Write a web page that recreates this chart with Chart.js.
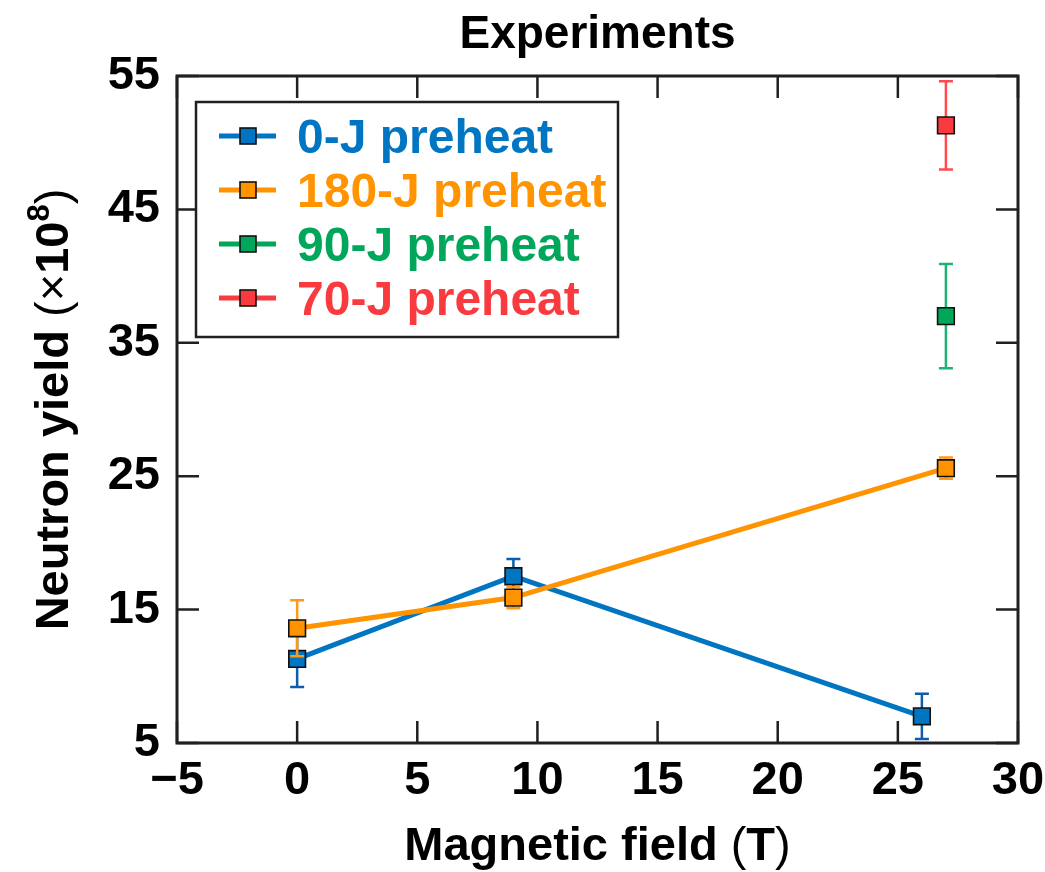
<!DOCTYPE html>
<html>
<head>
<meta charset="utf-8">
<title>Experiments</title>
<script src="https://cdn.jsdelivr.net/npm/chart.js@4.4.0/dist/chart.umd.min.js"></script>
<style>
  html, body { margin: 0; padding: 0; background: #fff; }
  #wrap { width: 1045px; height: 872px; }
</style>
</head>
<body>
<div id="wrap"><canvas id="myChart" width="1045" height="872"></canvas></div>
<script>
// axis ticks
const xTicks = [-5, 0, 5, 10, 15, 20, 25, 30];
const yTicks = [5, 15, 25, 35, 45, 55];

// neutron yield (x10^8) vs magnetic field (T), with error half-widths
const seriesLabels = ['0-J preheat', '180-J preheat', '90-J preheat', '70-J preheat'];

const field0J = [0, 9, 26];
const yield0J = [11.3, 17.5, 7.0];
const err0J = [2.1, 1.3, 1.7];

const field180J = [0, 9, 27];
const yield180J = [13.6, 15.9, 25.6];
const err180J = [2.1, 0.8, 0.8];

const field90J = [27];
const yield90J = [37.0];
const err90J = [3.9];

const field70J = [27];
const yield70J = [51.3];
const err70J = [3.3];

const colors = ['#0075c1', '#ff9300', '#00a65a', '#f93b40'];
const errColors = ['#0d5daa', '#ff9a17', '#1fb275', '#ff4a50'];

const FONT = "'Liberation Sans', Arial, Helvetica, sans-serif";
const INK = '#231f20';

function points(xs, ys, es) {
    return xs.map((x, i) => ({ x: x, y: ys[i], err: es[i] }));
}

function makeSet(i, xs, ys, es, joined) {
    return {
        label: seriesLabels[i],
        data: points(xs, ys, es),
        showLine: joined,
        borderColor: colors[i],
        borderWidth: 5,
        backgroundColor: colors[i],
        pointStyle: 'rect',
        pointRadius: 11.8,
        pointHoverRadius: 11.8,
        pointBackgroundColor: colors[i],
        pointBorderColor: '#111',
        pointBorderWidth: 1.6,
        errColor: errColors[i],
        order: 4 - i
    };
}

// error bars go right under each series' own line and markers
const errorBars = {
    id: 'errorBars',
    beforeDatasetDraw(chart, args) {
        const ds = chart.data.datasets[args.index];
        const xs = chart.scales.x, ys = chart.scales.y;
        const c = chart.ctx;
        c.save();
        c.strokeStyle = ds.errColor;
        c.lineWidth = 2.5;
        ds.data.forEach(p => {
            const px = xs.getPixelForValue(p.x);
            const top = ys.getPixelForValue(p.y + p.err);
            const bot = ys.getPixelForValue(p.y - p.err);
            c.beginPath();
            c.moveTo(px, top); c.lineTo(px, bot);
            c.moveTo(px - 7, top); c.lineTo(px + 7, top);
            c.moveTo(px - 7, bot); c.lineTo(px + 7, bot);
            c.stroke();
        });
        c.restore();
    }
};

// frame, inward ticks, legend box and titles
const decorations = {
    id: 'decorations',
    afterDraw(chart) {
        const c = chart.ctx;
        const a = chart.chartArea;
        const xs = chart.scales.x, ys = chart.scales.y;
        const tl = 22;
        c.save();
        c.strokeStyle = INK;
        c.lineWidth = 2.5;
        c.beginPath();
        xTicks.forEach(v => {
            const px = xs.getPixelForValue(v);
            c.moveTo(px, a.bottom); c.lineTo(px, a.bottom - tl);
            c.moveTo(px, a.top); c.lineTo(px, a.top + tl);
        });
        yTicks.forEach(v => {
            const py = ys.getPixelForValue(v);
            c.moveTo(a.left, py); c.lineTo(a.left + tl, py);
            c.moveTo(a.right, py); c.lineTo(a.right - tl, py);
        });
        c.stroke();
        c.lineWidth = 3;
        c.strokeRect(a.left, a.top, a.right - a.left, a.bottom - a.top);

        // legend
        const lx = a.left + 19, ly = a.top + 26, lw = 422, lh = 235;
        c.fillStyle = '#fff';
        c.fillRect(lx, ly, lw, lh);
        c.lineWidth = 2.5;
        c.strokeStyle = INK;
        c.strokeRect(lx, ly, lw, lh);
        c.font = 'bold 48px ' + FONT;
        c.textAlign = 'left';
        c.textBaseline = 'alphabetic';
        chart.data.datasets.slice().sort((p, q) => q.order - p.order).forEach((ds, i) => {
            const ry = ly + 34 + i * 54;
            c.strokeStyle = ds.borderColor;
            c.lineWidth = 5;
            c.beginPath();
            c.moveTo(lx + 23, ry); c.lineTo(lx + 80, ry);
            c.stroke();
            c.fillStyle = ds.borderColor;
            c.fillRect(lx + 44, ry - 8, 16, 16);
            c.strokeStyle = '#111';
            c.lineWidth = 1.6;
            c.strokeRect(lx + 44, ry - 8, 16, 16);
            c.fillStyle = ds.borderColor;
            c.fillText(ds.label, lx + 101, ry + 17);
        });

        // chart title
        const cx = (a.left + a.right) / 2;
        c.fillStyle = '#000';
        c.textAlign = 'center';
        c.font = 'bold 46px ' + FONT;
        c.fillText('Experiments', cx, 48);

        // x axis title
        drawRich(c, [
            ['Magnetic field ', 'bold 47px', 0],
            ['(', '47px', 0],
            ['T', 'bold 47px', 0],
            [')', '47px', 0]
        ], cx, 860);

        // y axis title, rotated
        c.save();
        c.translate(68, (a.top + a.bottom) / 2);
        c.rotate(-Math.PI / 2);
        drawRich(c, [
            ['Neutron yield ', 'bold 47px', 0],
            ['(\u00d7', '47px', 0],
            ['10', 'bold 47px', 0],
            ['8', 'bold 31px', -19],
            [')', '47px', 0]
        ], 0, 0);
        c.restore();
        c.restore();
    }
};

// draws mixed-weight text pieces centred on x
function drawRich(c, parts, x, y) {
    c.textAlign = 'left';
    let total = 0;
    parts.forEach(p => { c.font = p[1] + ' ' + FONT; total += c.measureText(p[0]).width; });
    let px = x - total / 2;
    parts.forEach(p => {
        c.font = p[1] + ' ' + FONT;
        c.fillText(p[0], px, y + p[2]);
        px += c.measureText(p[0]).width;
    });
}

const tickFont = { family: FONT, size: 47, weight: 'bold' };

const ctx = document.getElementById('myChart');
const myChart = new Chart(ctx, {
    type: 'scatter',
    data: {
        datasets: [
            makeSet(0, field0J, yield0J, err0J, true),
            makeSet(1, field180J, yield180J, err180J, true),
            makeSet(2, field90J, yield90J, err90J, false),
            makeSet(3, field70J, yield70J, err70J, false)
        ]
    },
    options: {
        responsive: false,
        animation: false,
        layout: { padding: { top: 76, right: 27, left: 0, bottom: 0 } },
        plugins: {
            legend: { display: false },
            tooltip: { enabled: false }
        },
        scales: {
            x: {
                type: 'linear',
                min: -5,
                max: 30,
                afterBuildTicks: s => { s.ticks = xTicks.map(v => ({ value: v })); },
                afterFit: s => { s.height = 129; s.paddingLeft = 0; s.paddingRight = 0; },
                grid: { display: false, drawTicks: false },
                border: { display: false },
                ticks: {
                    font: tickFont,
                    color: '#000',
                    padding: 10,
                    maxRotation: 0,
                    autoSkip: false,
                    callback: v => v < 0 ? '\u2212' + Math.abs(v) : String(v)
                }
            },
            y: {
                type: 'linear',
                min: 5,
                max: 55,
                afterBuildTicks: s => { s.ticks = yTicks.map(v => ({ value: v })); },
                afterFit: s => { s.width = 177; s.paddingTop = 0; s.paddingBottom = 0; },
                grid: { display: false, drawTicks: false },
                border: { display: false },
                ticks: {
                    font: tickFont,
                    color: '#000',
                    padding: 17,
                    autoSkip: false
                }
            }
        }
    },
    plugins: [errorBars, decorations]
});
</script>
</body>
</html>
